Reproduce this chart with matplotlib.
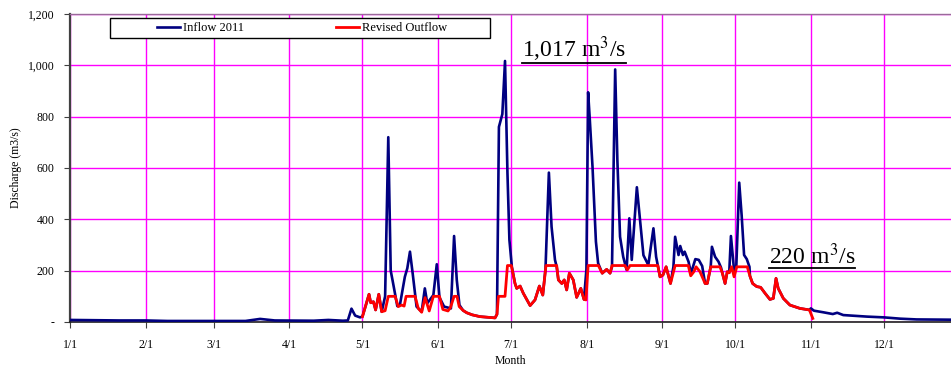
import matplotlib
matplotlib.use("Agg")
import matplotlib.pyplot as plt
from matplotlib.patches import Rectangle
from matplotlib.lines import Line2D

plt.rcParams['font.family'] = ['Liberation Serif', 'DejaVu Serif']
plt.rcParams['mathtext.fontset'] = 'stix'

# 月の区切り（1/1 からの日数）
month_days = [0, 31, 59, 90, 120, 151, 181, 212, 243, 273, 304, 334]
month_labels = ["1/1", "2/1", "3/1", "4/1", "5/1", "6/1", "7/1", "8/1",
                "9/1", "10/1", "11/1", "12/1"]

y_ticks = [0, 200, 400, 600, 800, 1000, 1200]
y_labels = ["-", "200", "400", "600", "800", "1,000", "1,200"]

# 流入量 2011
inflow_day = [0, 10, 20, 31, 40, 59, 72, 78, 84, 100, 106, 112, 114, 115.5, 117, 119,
              120, 122.7, 123.4, 124.5, 125.4, 126.7, 127.9, 129.3, 130.6, 131.6, 132.4,
              134.3, 135.4, 137.4, 138.4, 139.5, 140.6, 142.2, 144.3, 145.6, 146.6, 149.1,
              150.5, 151.6, 153.5, 156.3, 157.6, 158.7, 159.8, 161.3, 162.8, 165, 168.2,
              174.4, 175.2, 176.0, 177.4, 178.5, 179.5, 180.3, 181.3, 182.6, 183.3, 184.7,
              186, 188.8, 190.8, 192.6, 194, 195.1, 196.5, 197.6, 199, 199.7, 200.4, 201.8,
              202.8, 203.8, 204.9, 206.5, 207.9, 209.6, 210.9, 211.9, 212.6, 213.3, 214.4,
              215.8, 216.7, 218.4, 220.2, 221.6, 222.4, 223.7, 224.6, 225.7, 227, 228.4,
              229.5, 230.5, 232.6, 233.9, 235.3, 237.3, 239.4, 240.5, 241.2, 242.1, 243.3,
              244.6, 246.4, 247.6, 248.3, 249.7, 250.4, 251.5, 252.2, 253.8, 254.8, 256.6,
              258, 259.4, 260.6, 261.5, 262.9, 263.4, 264.7, 266.1, 267.1, 267.7, 268.8,
              269.7, 270.5, 271.2, 272.5, 273.4, 274.6, 275.6, 276.6, 277.7, 278.8, 279,
              280.1, 281.8, 283.4, 285.2, 287.2, 288.6, 289.7, 290.6, 292.7, 295.4, 299.5,
              303.4, 304, 305.3, 309, 313, 314.8, 317.3, 327, 334, 340.6, 347.4, 361.5]
inflow_q = [8, 7, 6, 6, 4, 4, 4, 12, 6, 5, 8, 5, 6, 52, 25, 18,
            21, 108, 75, 79, 47, 108, 40, 100, 720, 200, 160,
            62, 68, 176, 209, 274, 190, 60, 40, 131, 73, 105,
            225, 96, 60, 53, 335, 164, 66, 45, 36, 28, 21,
            16, 30, 760, 810, 1017, 580, 320, 215, 150, 131, 140,
            112, 64, 86, 140, 105, 205, 582, 371, 242, 215, 164, 150,
            164, 125, 190, 164, 96, 131, 88, 205, 895, 787, 605,
            313, 229, 190, 205, 190, 215, 984, 631, 332, 254, 203,
            404, 242, 525, 397, 260, 222, 365, 254, 220, 176, 183,
            215, 150, 215, 332, 261, 296, 261, 274, 235, 190, 245,
            242, 218, 150, 150, 215, 293, 254, 235, 213, 190, 150,
            196, 192, 335, 200, 215, 543, 415, 261, 245, 215, 179,
            150, 138, 135, 112, 88, 92, 170, 131, 92, 66, 53,
            47, 53, 44, 38, 31, 36, 27, 21, 18, 13, 10, 9]

# 改訂放流量
outflow_day = [120, 122.7, 123.4, 124.5, 125.4, 126.7, 127.9, 129.3, 130.6, 133.4, 134.7,
               136.1, 137.1, 137.9, 141.6, 142.9, 144.3, 145.7, 147.4, 149.1, 151.6, 153,
               155.1, 156.1, 157.6, 158.8, 159.7, 161.3, 162.8, 165, 168.2, 174.4, 175.2,
               175.8, 178.5, 179.5, 181.1, 182.6, 183.3, 184.7, 186, 188.8, 190.8, 192.6,
               194, 195.3, 199.7, 200.4, 201.8, 202.8, 203.8, 204.9, 206.5, 207.9, 209.6,
               210.9, 211.7, 212.6, 216.8, 218.4, 220.2, 221.6, 222.4, 227.7, 228.7, 229.8,
               241.2, 242.1, 243.3, 244.6, 246.4, 248.3, 253.7, 254.7, 256, 256.9, 258.5,
               260.6, 261.5, 262.9, 266.7, 267.7, 268.8, 269.7, 270.5, 271.5, 272.5, 273.6,
               277.9, 279, 280.1, 281.8, 283.4, 285.2, 287.2, 288.6, 289.7, 290.6, 292.7,
               295.4, 299.5, 303.4, 304.8]
outflow_q = [21, 108, 75, 79, 47, 108, 40, 44, 100, 100, 60,
             66, 62, 100, 100, 53, 38, 95, 43, 100, 100, 49,
             43, 56, 100, 100, 60, 45, 36, 28, 21, 16, 30,
             100, 100, 220, 220, 150, 131, 140, 112, 64, 86, 140,
             105, 220, 220, 164, 150, 164, 125, 190, 164, 96, 131,
             88, 86, 220, 220, 190, 205, 190, 220, 220, 203, 220,
             220, 176, 183, 215, 150, 220, 220, 180, 196, 215, 196,
             150, 150, 215, 215, 190, 150, 196, 192, 215, 176, 215,
             215, 179, 150, 138, 135, 112, 88, 92, 170, 131, 92,
             66, 53, 47, 14]

fig = plt.figure(figsize=(9.51, 3.69), dpi=100)
ax = fig.add_axes([70 / 951, 1 - 322 / 369, 881 / 951, 308 / 369])

ax.plot(inflow_day, inflow_q, color='#000080', lw=1.9, label='Inflow 2011', zorder=3)
ax.plot(outflow_day, outflow_q, color='#FF0000', lw=2.0, label='Revised Outflow', zorder=4)

ax.set_xlim(0, 361.5)
ax.set_ylim(0, 1200)
ax.set_xticks(month_days)
ax.set_xticklabels(month_labels, fontsize=8.5)
ax.set_yticks(y_ticks)
ax.set_yticklabels(y_labels, fontsize=8.5)
ax.tick_params(axis='both', direction='out', length=4, width=0.8, color='#404040')
ax.tick_params(axis='x', pad=8)
ax.tick_params(axis='y', pad=7)

ax.set_axisbelow(True)
ax.grid(True, color='#FF00FF', lw=1.0)

ax.spines['right'].set_visible(False)
ax.spines['top'].set_color('#9a6a9a')
ax.spines['top'].set_linewidth(1.0)
ax.spines['left'].set_color('#404040')
ax.spines['left'].set_linewidth(1.6)
ax.spines['bottom'].set_color('#202020')
ax.spines['bottom'].set_linewidth(1.2)

ax.set_xlabel('Month', fontsize=8.5)
ax.xaxis.set_label_coords(0.5, -(355 - 322) / 308)
ax.set_ylabel('Discharge (m3/s)', fontsize=8.5)
ax.yaxis.set_label_coords(-(70 - 22) / 881, 0.5)

# 凡例（枠は別に描く）
box = Rectangle((110 / 951, 1 - 38 / 369), 380 / 951, 20 / 369, transform=fig.transFigure,
                facecolor='white', edgecolor='black', lw=1.0, zorder=5, clip_on=False)
ax.add_patch(box)
leg = ax.legend(loc='center left', bbox_to_anchor=((157 - 70) / 881, (322 - 28) / 308),
                ncol=2, frameon=False, fontsize=9, handlelength=1.85,
                handletextpad=0.25, columnspacing=7.3, borderpad=0, borderaxespad=0)
leg.set_zorder(6)

# 注記（下線付き）
t1 = ax.text(185.5, 1032, '1,017 m$^3$/s', fontsize=17, ha='left', va='baseline', zorder=7)
t2 = ax.text(286.8, 226, '220 m$^3$/s', fontsize=17, ha='left', va='baseline', zorder=7)

fig.canvas.draw()
inv = fig.transFigure.inverted()
for t in (t1, t2):
    bb = t.get_window_extent()
    x0, y0 = inv.transform((bb.x0, bb.y0 + 1))
    x1, _ = inv.transform((bb.x1, bb.y0 + 1))
    fig.add_artist(Line2D([x0, x1], [y0, y0], color='black', lw=1.3, transform=fig.transFigure))

fig.savefig('out.png', dpi=100)
plt.close(fig)
